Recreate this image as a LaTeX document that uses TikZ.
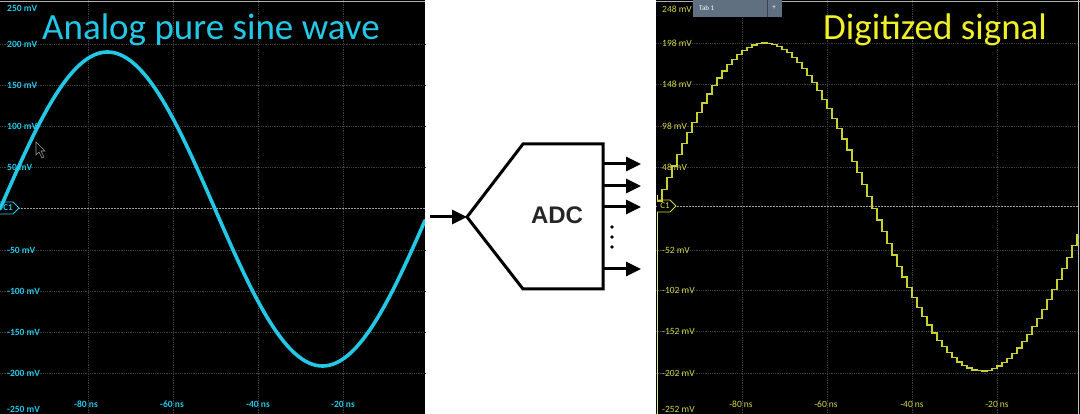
\documentclass[tikz,border=0pt]{standalone}
\usepackage{fontspec}
\usetikzlibrary{arrows.meta}
\newfontfamily\calib{Carlito}
\newfontfamily\arialfont{Liberation Sans}
\definecolor{scopecyan}{RGB}{34,200,230}
\definecolor{scopeyel}{RGB}{212,216,70}
\definecolor{traceyel}{RGB}{200,208,48}
\definecolor{titleyel}{RGB}{240,240,40}
\definecolor{gridgray}{RGB}{62,62,62}
\definecolor{tabblue}{RGB}{96,112,128}
\tikzset{
  gridline/.style={gridgray,densely dotted,line width=0.8},
  zeroline/.style={gray!75,dash pattern=on 2pt off 1pt,line width=0.7},
  vlabel/.style={font=\calib\fontsize{9.5}{10}\selectfont,anchor=west,inner sep=0},
  tlabel/.style={font=\calib\fontsize{9.5}{10}\selectfont,inner sep=0},
  headline/.style={font=\calib\fontsize{37}{37}\selectfont,anchor=base west,inner sep=0},
  wire/.style={line width=3,-{Triangle[length=15pt,width=14pt]}},
  chtag/.style={line width=0.8,fill=black}
}
\begin{document}
\begin{tikzpicture}[x=1pt,y=-1pt]
\useasboundingbox (0,0) rectangle (1080,414);
\fill[white] (0,0) rectangle (1080,414);

\fill[black] (0,0) rectangle (425,414);
\draw[gray!60] (0,1) -- (425,1);
\foreach \y in {44,85,126,167,250,291,332,373}
  \draw[gridline] (0,\y) -- (425,\y);
\foreach \x in {88,173,258,343}
  \draw[gridline] (\x,0) -- (\x,414);
\draw[zeroline] (0,208) -- (425,208);
\foreach \v/\y [count=\i] in {250 mV/8,200 mV/44,150 mV/85,100 mV/126,50 mV/167,-50 mV/250,-100 mV/291,-150 mV/332,-200 mV/373,-250 mV/409}
  \node[vlabel,text=scopecyan,font=\calib\bfseries\fontsize{9.5}{10}\selectfont] (lv\i) at (7,\y) {\v};
\foreach \t/\x [count=\i] in {-80 ns/86,-60 ns/172,-40 ns/258,-20 ns/343}
  \node[tlabel,text=scopecyan,font=\calib\bfseries\fontsize{9.5}{10}\selectfont] (lt\i) at (\x,404) {\t};
\draw[scopecyan,chtag] (0,202) -- (13,202) -- (19,208) -- (13,214) -- (0,214);
\node[tlabel,text=scopecyan,font=\calib\bfseries\fontsize{9}{9}\selectfont] (lc1) at (8,208) {C1};
\draw[gray!80,fill=black,line width=0.6] (36,142) -- (36,155) -- (39,152) -- (42,158) -- (44,157) -- (41,151) -- (45,151) -- cycle;
\begin{scope}
\clip (0,0) rectangle (425,414);
\draw[scopecyan,line width=3.6,line cap=round] plot[domain=0:425,samples=160] (\x,{209-157*sin(\x/430*360)});
\end{scope}
\node[headline,text=scopecyan] (lefttitle) at (42,40) {Analog pure sine wave};

\coordinate (adcl) at (467,217);
\draw[line width=3,line join=miter] (adcl) -- (523,144) -- (603,144) -- (603,289) -- (523,289) -- cycle;
\node[font=\arialfont\bfseries\fontsize{24}{24}\selectfont,text=black!85] (adc) at (557,215) {ADC};
\coordinate (adcin) at (430,217);
\draw[wire] (adcin) -- (adcl);
\foreach \y [count=\i] in {164,186,207,269} {
  \coordinate (out\i) at (603,\y);
  \coordinate (end\i) at (641,\y);
  \draw[wire] (out\i) -- (end\i);
}
\foreach \y in {227,237,247}
  \fill (612,\y) circle (1.8);

\fill[black] (656,0) rectangle (1080,414);
\draw[gray!60] (656,1) -- (1080,1);
\draw[gray!50] (1078,0) -- (1078,414);
\foreach \y in {43,84,126,167,250,290,331,373}
  \draw[gridline] (656,\y) -- (1078,\y);
\foreach \x in {742,827,912,997}
  \draw[gridline] (\x,0) -- (\x,414);
\draw[zeroline] (656,206) -- (1078,206);
\draw[scopeyel!70,line width=0.8] (657,195) -- (657,414);
\foreach \v/\y [count=\i] in {248 mV/9,198 mV/43,148 mV/84,98 mV/126,48 mV/167,-52 mV/250,-102 mV/290,-152 mV/331,-202 mV/373,-252 mV/409}
  \node[vlabel,text=scopeyel] (rv\i) at (662,\y) {\v};
\foreach \t/\x [count=\i] in {-80 ns/741,-60 ns/826,-40 ns/912,-20 ns/997}
  \node[tlabel,text=scopeyel] (rt\i) at (\x,404) {\t};
\draw[scopeyel,chtag] (657,200) -- (670,200) -- (676,206) -- (670,212) -- (657,212);
\node[tlabel,text=scopeyel,font=\calib\fontsize{9}{9}\selectfont] (rc1) at (665,206) {C1};
\fill[tabblue] (693,0) rectangle (782,17);
\draw[tabblue!60!black] (767,0) -- (767,17);
\node[tlabel,text=white,font=\calib\fontsize{7}{7}\selectfont,anchor=west] (tab) at (699,8) {Tab 1};
\node[tlabel,text=white!85,font=\calib\fontsize{7}{7}\selectfont] (tabplus) at (774,8) {+};
\begin{scope}
\clip (657,0) rectangle (1078,414);
\draw[traceyel,line width=1.3] plot[const plot,domain=657:1082,samples=86] (\x,{207-164*sin((\x-654.5)/434*360)});
\end{scope}
\node[headline,text=titleyel] (righttitle) at (823,40) {Digitized signal};
\end{tikzpicture}
\end{document}
